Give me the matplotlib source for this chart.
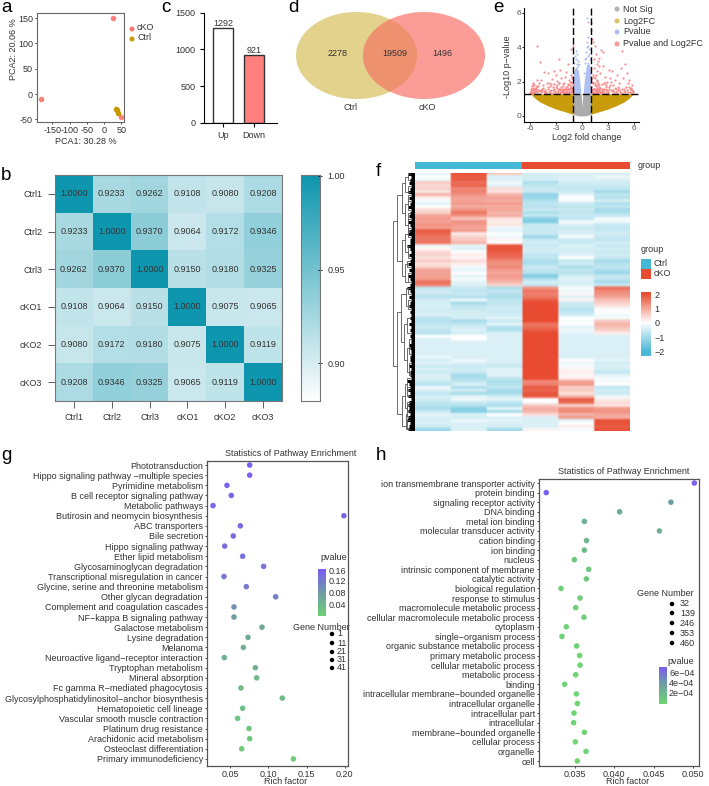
import numpy as np
import matplotlib
matplotlib.use("Agg")
import matplotlib.pyplot as plt
from matplotlib.patches import Ellipse, Rectangle
from matplotlib.colors import LinearSegmentedColormap, Normalize

plt.rcParams['font.family'] = ['Liberation Sans', 'DejaVu Sans']

W, H = 709, 786
TXT = 6.5
DARK = '#333333'

# a: PCA
pca_ko_x = [27, -183, 48]
pca_ko_y = [150, -10, -45]
pca_ctrl_x = [35, 38, 40]
pca_ctrl_y = [-30, -32, -38]

# c: DEG counts
deg_names = ['Up', 'Down']
deg_counts = [1292, 921]

# d: venn counts
venn_counts = [2278, 19509, 1496]

# b: correlation
samples = ['Ctrl1', 'Ctrl2', 'Ctrl3', 'cKO1', 'cKO2', 'cKO3']
corr = [[1.0000, 0.9233, 0.9262, 0.9108, 0.9080, 0.9208],
        [0.9233, 1.0000, 0.9370, 0.9064, 0.9172, 0.9346],
        [0.9262, 0.9370, 1.0000, 0.9150, 0.9180, 0.9325],
        [0.9108, 0.9064, 0.9150, 1.0000, 0.9075, 0.9065],
        [0.9080, 0.9172, 0.9180, 0.9075, 1.0000, 0.9119],
        [0.9208, 0.9346, 0.9325, 0.9065, 0.9119, 1.0000]]

# e: volcano, dense parts are kept as bands, sparse points as lists
gold_left_x = [-6.0, -5.5, -5, -4, -3, -2, -1]
gold_left_low = [1.3, 1.05, 0.85, 0.6, 0.4, 0.25, 0.1]
gold_right_x = [1, 2, 3, 4, 5, 5.5, 6.0]
gold_right_low = [0.1, 0.25, 0.4, 0.6, 0.85, 1.05, 1.3]
grey_x = [-1, -0.5, -0.1, 0.0, 0.1, 0.5, 1]
grey_low = [0.1, 0.02, 0.0, 0.0, 0.0, 0.02, 0.1]
grey_high = [1.3, 1.3, 1.3, 0.5, 1.3, 1.3, 1.3]
blue_left_x = [-1, -0.8, -0.6, -0.4, -0.25, -0.15]
blue_left_top = [2.5, 2.8, 2.9, 2.6, 2.0, 1.4]
blue_right_x = [0.15, 0.3, 0.5, 0.7, 0.9, 1]
blue_right_top = [1.4, 2.2, 2.9, 3.2, 2.9, 2.5]
blue_pts_x = [-0.9, -0.8, -0.75, -0.7, -0.6, -0.55, -0.5, -0.45, -0.4, 0.2, 0.3, 0.4, 0.5, 0.55, 0.6, 0.65, 0.7, 0.75, 0.8, 0.85, 0.9, 0.5, 0.6, 0.7]
blue_pts_y = [3.1, 3.5, 3.8, 3.3, 3.6, 3.0, 3.2, 2.9, 3.0, 2.5, 3.1, 3.3, 3.7, 4.3, 5.7, 4.6, 5.5, 4.1, 3.9, 3.6, 3.3, 3.4, 4.0, 3.5]
red_x = [-5.9, -5.8, -5.7, -5.6, -5.5, -5.4, -5.3, -5.2, -5.1, -5.0, -4.9, -4.8, -4.7, -4.6, -4.5, -4.4, -4.3, -4.2, -4.1, -4.0,
         -3.9, -3.8, -3.7, -3.6, -3.5, -3.4, -3.3, -3.2, -3.1, -3.0, -2.9, -2.8, -2.7, -2.6, -2.5, -2.4, -2.3, -2.2, -2.1, -2.0,
         -1.9, -1.8, -1.7, -1.6, -1.5, -1.4, -1.3, -1.25, -1.2, -1.15, -1.1, -5.2, -4.9, -2.7, -1.6, -1.3, -5.8, -5.6, -5.4, -5.2,
         -4.8, -4.4, -3.8, -3.4, -3.0, -2.6, -2.2, -1.8, -1.4, -1.2, -2.4, -2.0, -1.6, -3.6, -3.2,
         1.05, 1.1, 1.15, 1.2, 1.25, 1.3, 1.35, 1.4, 1.45, 1.5, 1.55, 1.6, 1.65, 1.7, 1.75, 1.8, 1.85, 1.9, 1.95, 2.0,
         2.1, 2.2, 2.3, 2.4, 2.5, 2.6, 2.7, 2.8, 2.9, 3.0, 3.1, 3.2, 3.3, 3.4, 3.5, 3.6, 3.7, 3.8, 3.9, 4.0,
         4.1, 4.2, 4.3, 4.4, 4.5, 4.6, 4.7, 4.8, 4.9, 5.0, 5.1, 5.2, 5.3, 5.4, 5.5, 5.6, 5.7, 5.8, 5.9, 1.3, 1.6, 2.0, 2.4, 1.8, 2.2, 2.8, 3.4, 4.2]
red_y = [1.45, 1.6, 1.85, 1.5, 1.4, 1.7, 1.55, 4.05, 1.5, 1.9, 3.15, 2.1, 1.6, 1.45, 1.8, 2.55, 1.5, 1.35, 1.95, 1.6,
         2.5, 1.4, 1.75, 1.5, 2.15, 1.35, 1.6, 1.85, 1.45, 2.4, 2.05, 1.5, 3.3, 2.7, 1.4, 2.2, 1.6, 1.85, 1.4, 2.3,
         1.55, 2.55, 1.7, 3.05, 2.1, 1.65, 3.9, 1.45, 1.5, 1.9, 4.1, 1.75, 1.5, 1.9, 1.8, 2.4, 1.35, 1.55, 1.45, 2.1,
         1.5, 1.4, 1.9, 1.7, 1.7, 1.5, 1.5, 1.4, 2.0, 2.3, 1.4, 1.6, 1.35, 1.35, 2.6,
         5.4, 5.0, 2.0, 4.5, 2.4, 4.3, 1.6, 3.3, 2.8, 4.1, 2.2, 3.6, 1.5, 2.6, 1.8, 2.1, 1.45, 3.2, 1.7, 3.4,
         2.5, 3.85, 1.6, 2.9, 3.7, 1.9, 2.3, 1.5, 2.0, 1.4, 2.7, 1.7, 2.2, 1.5, 2.6, 1.8, 1.4, 2.1, 1.6, 1.4,
         2.4, 1.5, 1.9, 1.35, 2.8, 3.8, 1.6, 2.2, 1.45, 3.0, 1.7, 2.5, 1.4, 1.9, 2.1, 1.55, 1.65, 1.5, 1.4, 1.9, 2.4, 2.9, 1.5, 3.0, 1.4, 1.8, 2.0, 1.7]
# the thick red crowd just above the threshold line
red_low_x = [-6.0, -5.95, -5.9, -5.85, -5.8, -5.75, -5.7, -5.65, -5.6, -5.55, -5.5, -5.45, -5.35, -5.25, -5.15, -4.95, -4.75, -4.55, -4.35,
             -4.15, -3.95, -3.75, -3.55, -3.35, -3.15, -2.95, -2.85, -2.75, -2.65, -2.55, -2.45, -2.35, -2.25, -2.15, -2.05, -1.95, -1.85,
             -1.75, -1.65, -1.55, -1.45, -1.35, -1.3, -1.25, -1.2, -1.15, -1.1, -1.05, -2.9, -2.7, -2.5, -2.3, -2.1, -1.9, -1.7, -1.5, -1.3,
             -1.1, -2.2, -2.0, -1.8, -1.6, -1.4, -1.2,
             1.05, 1.1, 1.15, 1.2, 1.25, 1.3, 1.35, 1.4, 1.45, 1.5, 1.55, 1.6, 1.65, 1.7, 1.75, 1.8, 1.85, 1.9, 1.95, 2.0, 2.05, 2.15, 2.25,
             2.35, 2.45, 2.55, 2.65, 2.75, 2.85, 2.95, 3.05, 3.15, 3.25, 3.45, 3.65, 3.85, 4.05, 4.25, 4.45, 4.65, 4.85, 5.05, 5.25, 5.45,
             5.55, 5.65, 5.75, 5.85, 5.95, 1.2, 1.4, 1.6, 1.8, 2.0, 2.2, 2.4, 2.6, 2.8, 3.0, 1.3, 1.5, 1.7, 1.9, 2.1]
red_low_y = [1.35, 1.6, 1.4, 1.75, 1.5, 1.95, 1.4, 1.65, 1.35, 1.8, 1.55, 1.4, 1.65, 1.4, 1.75, 1.45, 1.4, 1.65, 1.45,
             1.4, 1.7, 1.45, 1.85, 1.5, 1.4, 1.65, 1.8, 1.4, 1.95, 1.55, 1.7, 1.4, 1.75, 1.5, 1.95, 1.4, 1.7,
             1.5, 1.85, 1.4, 1.8, 1.55, 2.0, 1.35, 2.2, 1.6, 1.8, 1.45, 1.35, 1.55, 1.35, 1.45, 1.6, 1.35, 1.45, 1.55, 1.7,
             1.35, 1.4, 1.35, 1.6, 1.55, 1.4, 1.65,
             1.4, 1.7, 1.5, 2.2, 1.35, 1.9, 1.6, 2.3, 1.4, 1.8, 1.95, 1.35, 1.75, 2.05, 1.45, 1.65, 1.9, 1.4, 1.55, 1.8, 1.4, 1.65, 1.45,
             1.85, 1.4, 1.6, 1.9, 1.35, 1.7, 1.5, 1.4, 1.6, 1.8, 1.45, 1.5, 1.65, 1.4, 1.55, 1.45, 1.35, 1.6, 1.4, 1.5, 1.7,
             1.4, 1.6, 1.35, 1.8, 1.45, 1.45, 1.35, 1.45, 1.35, 1.5, 1.35, 1.45, 1.35, 1.5, 1.35, 1.55, 1.6, 1.4, 1.55, 1.35]
volcano_legend = ['Not Sig', 'Log2FC', 'Pvalue', 'Pvalue and Log2FC']

# f: heatmap columns, 86 rows
hm_c1 = [-.3, 0, -.2, .6, .4, .5, .3, .8, .2, -.1, -.3, 0, .4, .5, 1.0, 1.1, 1.0, 1.2, 1.1, 1.8, 1.7, 1.5, 1.5, 1.5,
         -.2, .1, .4, .5, .3, .6, .3, .5, 1.0, 1.0, 1.0, 1.1, 1.6, 1.4, -.7, -.5, -.6, -.8, -.5, -.5, -.4, -.5, -.5, -.4,
         -.8, -.8, -.7, -.6, -.7, -.8, 0, -.4, -.4, -.4, -.4, -.4, -.4, -.2, -.5, -.3, -.6, -.4, -.6, -.4, -.4,
         -.6, -.8, -.2, -.4, -.7, -.5, -.5, -.7, -.8, -1, -.6, -.3, -.4, -.5, -.4, -.6, -1.1]
hm_c2 = [1.9, 1.8, 1.8, 1.6, 1.7, 1.3, 1.4, 1.2, 1.0, 1.0, 1.1, .9, 1.2, 1.5, 1.2, .6, 1.2, 1.1, 1.0, 1.1, .2, .5, .6, .8,
         -.3, -.4, 0, .2, .1, .4, .2, -.1, -.3, 0, -.3, -.1, -.3, -.4, -.6, -.7, -.6, -.9, -.2, -1, -.7, -.6, -.5, -.5,
         -.5, -1, -.7, -.5, -.4, -.5, 0, 0, -.4, -.4, -.4, -.4, -.4, -.4, -.2, -.4, -.6, -.5, -.6, -1, -.9,
         -.7, -.4, -.9, -.5, -1, -.3, -.2, -.6, -.8, -1.3, -1.3, -.4, -.5, -.2, -.4, -.4, -.4]
hm_c3 = [.6, -.4, -.4, -.2, -.3, .4, .3, .8, 1.0, .9, 1.1, .9, 1.0, .8, .9, .3, .2, .3, -.2, -.3, 0, -.2, .1, 0,
         1.9, 1.9, 1.8, 1.7, 1.6, 1.3, 1.2, 1.3, 1.1, 1.0, 1.1, 1.0, .8, .5, -.9, -.7, -.8, -.9, -.7, -.7, -.6, -.5, -.6, -.5,
         -.3, -.6, -.3, -.8, -.9, -.4, -.4, -.4, -.4, -.4, -.4, -.4, -.4, -.4, -.4, -.5, -.6, -.3, -.4, -.3, -.7,
         -.9, -.8, -.7, -1, -1, -.5, -.3, -.7, -.9, -.3, -1, 0, -.4, -.3, -.4, -.5, -1]
hm_c4 = [-.5, -.5, -.5, -.9, -.7, -.6, -.6, -1.2, -1.1, -.9, -.7, -.8, -.6, -.9, -.7, -1.3, -1.4, -.6, -.6, -.6, -.6, -1.1, -.6, -.5,
         -.6, -.5, -.5, -.7, -.7, -.9, -.9, -.6, -.7, -.8, -1.4, -.9, -.5, -.6, 1.2, 1.5, 1.4, 1.5, 1.8, 2, 2, 2, 2, 2,
         2, 2, 1.5, 1.6, 1.8, 2, 2, 2, 2, 2, 2, 2, 2, 2, 2, 2, 2, 2, 2, 2, 2,
         1.3, 1.4, 1.8, 1.7, 1.9, 1.8, 0, -.1, .6, .9, .8, .4, -.4, -.4, -.4, -.4, .1]
hm_c5 = [-.4, -.4, -.4, -.5, -.6, -.7, -.6, -.3, 0, -.1, -.6, -.7, -.6, -.7, -.6, -.7, -.1, -.4, -.6, -.5, -.4, -.1, -.6, -.6,
         -.4, -.5, -.5, -.4, 0, -.7, -.5, -.9, -.7, -.8, -.5, -.3, -.5, -.4, -.1, -.2, .1, -.4, .1, -.6, -.6, -.8, -.7, -.5,
         0, -.1, 0, -.3, -.2, -.3, -.4, -.4, -.4, -.4, -.4, -.4, -.4, -.4, 0, -.2, -.1, .1, .2, .1, .2,
         1.0, 1.1, .5, .6, .3, .8, 1.8, 1.6, .5, 1.2, 1.3, .8, 1.1, -.3, 0, .2, -.1]
hm_c6 = [-.5, -.2, -.4, -.5, -.6, -.7, -1, -.7, -.8, -.5, -.9, -.7, -1, -.9, -.6, -.1, -.2, -.6, -.7, -.6, -.5, -.6, -.7, -.5,
         -.6, -.5, -.6, -.5, -.6, -1, -.8, -.7, -.9, -1.1, -.6, -.7, -1, -.6, 1.6, 1.3, 1.2, 1.0, .7, .5, .3, -.1, 0, -.2,
         -.1, .6, .8, .7, .5, .2, -.4, -.4, -.4, -.4, -.4, -.4, -.4, -.4, -.3, -.5, -.4, -.5, -.7, -.3, -.1,
         -.1, 0, -.7, -.5, -.6, -.2, .2, .4, .3, 1.1, 1.2, 1.0, .9, 1.9, 1.9, 1.8, 1.9]
# how far each leaf reaches out of the heatmap
leaf_len = [.28, .18, .22, .26, .16, .2, .3, .18, .24, .16, .22, .28, .18, .2, .26, .16, .3, .2, .18, .24, .28, .16, .22, .2,
            .34, .2, .16, .26, .18, .22, .3, .18, .24, .16, .28, .2, .18, .22, .34, .22, .16, .26, .18, .2, .24, .16, .22, .18,
            .2, .16, .24, .18, .22, .16, .2, .18, .16, .24, .2, .18, .16, .22, .2, .18, .24, .16, .2, .22, .18,
            .34, .26, .2, .28, .22, .3, .18, .26, .32, .24, .3, .2, .28, .34, .22, .26, .3]
# brackets: top row, bottom row, height, height of top child, height of bottom child
brackets = [(15.5, 64, 1.0, .80, .80), (7, 29, .80, .60, .60), (46, 80, .80, .62, .58),
            (3, 13, .60, .44, .42), (22, 34, .60, .44, .46), (40, 56, .62, .40, .48), (74, 84, .58, .44, .40),
            (1, 6, .44, .32, .30), (10, 17, .42, .32, .30), (20, 26, .44, .30, .32), (30, 36, .46, .34, .30),
            (38, 44, .40, .30, .28), (50, 62, .48, .36, .34), (70, 78, .44, .34, .36), (80, 85, .40, .36, .34),
            (9, 12, .32, .2, .2), (15, 19, .30, .2, .2), (24, 28, .32, .2, .2), (33, 36, .30, .2, .2),
            (48, 53, .36, .2, .2), (58, 66, .34, .2, .2), (68, 72, .34, .2, .2), (76, 79, .36, .2, .2),
            (0, 2, .32, .2, .2), (4, 6, .30, .2, .2), (7, 9, .28, .2, .2), (13, 15, .28, .2, .2), (18, 21, .3, .2, .2),
            (29, 31, .34, .2, .2), (38, 40, .3, .2, .2), (42, 45, .28, .2, .2), (55, 60, .26, .18, .18), (63, 67, .26, .18, .18),
            (71, 74, .34, .2, .2), (77, 81, .36, .2, .2), (82, 85, .34, .2, .2)]

# g: pathway enrichment
kegg_names = ['Phototransduction', 'Hippo signaling pathway \u2212multiple species', 'Pyrimidine metabolism',
              'B cell receptor signaling pathway', 'Metabolic pathways', 'Butirosin and neomycin biosynthesis',
              'ABC transporters', 'Bile secretion', 'Hippo signaling pathway', 'Ether lipid metabolism',
              'Glycosaminoglycan degradation', 'Transcriptional misregulation in cancer',
              'Glycine, serine and threonine metabolism', 'Other glycan degradation',
              'Complement and coagulation cascades', 'NF\u2212kappa B signaling pathway', 'Galactose metabolism',
              'Lysine degradation', 'Melanoma', 'Neuroactive ligand\u2212receptor interaction', 'Tryptophan metabolism',
              'Mineral absorption', 'Fc gamma R\u2212mediated phagocytosis',
              'Glycosylphosphatidylinositol\u2212anchor biosynthesis', 'Hematopoietic cell lineage',
              'Vascular smooth muscle contraction', 'Platinum drug resistance', 'Arachidonic acid metabolism',
              'Osteoclast differentiation', 'Primary immunodeficiency']
kegg_rich = [.0754, .0754, .0456, .0513, .0273, .199, .0631, .0539, .0426, .0662, .0937, .0417, .071, .1095, .0548,
             .0548, .0916, .0732, .0671, .0421, .0828, .0846, .064, .1182, .0662, .0596, .0745, .0754, .0649, .1327]
kegg_p = [.168, .166, .164, .162, .160, .158, .155, .152, .148, .145, .140, .135, .130, .125, .105,
          .085, .070, .066, .062, .058, .054, .050, .046, .042, .036, .030, .026, .022, .018, .015]
kegg_sizes = [1, 11, 21, 31, 41]

# h: GO enrichment
go_names = ['ion transmembrane transporter activity', 'protein binding', 'signaling receptor activity', 'DNA binding',
            'metal ion binding', 'molecular transducer activity', 'cation binding', 'ion binding', 'nucleus',
            'intrinsic component of membrane', 'catalytic activity', 'biological regulation', 'response to stimulus',
            'macromolecule metabolic process', 'cellular macromolecule metabolic process', 'cytoplasm',
            'single\u2212organism process', 'organic substance metabolic process', 'primary metabolic process',
            'cellular metabolic process', 'metabolic process', 'binding', 'intracellular membrane\u2212bounded organelle',
            'intracellular organelle', 'intracellular part', 'intracellular', 'membrane\u2212bounded organelle',
            'cellular process', 'organelle', 'cell']
go_rich = [.05017, .0314, .0472, .0407, .03623, .04574, .0365, .03623, .03496, .03678, .03648, .03327, .03568, .03513,
           .03618, .03394, .03339, .03525, .03563, .03568, .03513, .03373, .03521, .03534, .03492, .03487, .03623,
           .03508, .03644, .03534]
go_p = [7e-4, 6.9e-4, 3.6e-4, 3.0e-4, 2.6e-4, 2.4e-4, 2.2e-4, 2.0e-4, 1.0e-4, .9e-4, .8e-4, .5e-4, .5e-4, .4e-4, .4e-4,
        .3e-4, .3e-4, .2e-4, .2e-4, .2e-4, .2e-4, .1e-4, .1e-4, .1e-4, .1e-4, .1e-4, .1e-4, .1e-4, .1e-4, .1e-4]
go_sizes = [32, 139, 246, 353, 460]

fig = plt.figure(figsize=(W / 100, H / 100), dpi=100)


def ax_px(x0, y0, x1, y1, **kw):
    # axes placed by pixel box of the reference, y counted from the top
    return fig.add_axes([x0 / W, 1 - y1 / H, (x1 - x0) / W, (y1 - y0) / H], **kw)


def text_px(x, y, s, **kw):
    kw.setdefault('fontsize', TXT)
    kw.setdefault('color', DARK)
    kw.setdefault('va', 'center')
    return fig.text(x / W, 1 - y / H, s, **kw)


def blob(x, y, d, col):
    fig.add_artist(Ellipse((x / W, 1 - y / H), d / W, d / H, color=col, lw=0, transform=fig.transFigure))


for lab, lx, ly in [('a', 1, 8), ('c', 161, 8), ('d', 288, 8), ('e', 493, 8),
                    ('b', 1, 175), ('f', 376, 172), ('g', 1, 456), ('h', 376, 455)]:
    text_px(lx, ly, lab, fontsize=13.5, color='black')

# ---- a
ax = ax_px(37, 13, 124, 122)
ax.scatter(pca_ko_x, pca_ko_y, s=16, color='#F8766D', alpha=.9, lw=0)
ax.scatter(pca_ctrl_x, pca_ctrl_y, s=16, color='#C49A00', lw=0)
ax.set_xlim(-195, 58)
ax.set_ylim(-55, 160)
ax.set_xticks([-150, -100, -50, 0, 50], ['-150', '-100', '-50', '0', '50'])
ax.set_yticks([-50, 0, 50, 100, 150], ['-50', '0', '50', '100', '150'])
ax.tick_params(labelsize=TXT, length=1.5, width=.5, pad=1.5, labelcolor=DARK)
for s in ax.spines.values():
    s.set_color('#666666')
    s.set_linewidth(.8)
text_px(14, 49, 'PCA2: 20.06 %', rotation=90, ha='center')
text_px(86, 141, 'PCA1: 30.28 %', ha='center')
for ly, col, s in [(29, '#F8766D', 'cKO'), (39, '#C49A00', 'Ctrl')]:
    blob(132, ly, 5, col)
    text_px(137, ly - 1, s)

# ---- c
ax = ax_px(204, 12.7, 277, 122.7)
ax.bar([0, 1], deg_counts, width=.66, color=['white', '#FF7F7F'], edgecolor='#333333', linewidth=1)
for i, v in enumerate(deg_counts):
    ax.text(i, v + 5, str(v), ha='center', va='bottom', fontsize=TXT, color=DARK)
ax.set_xlim(-.62, 1.75)
ax.set_ylim(0, 1500)
ax.set_xticks([0, 1], deg_names)
ax.set_yticks([0, 500, 1000, 1500])
ax.tick_params(labelsize=TXT, length=3, width=.8, pad=3, labelcolor=DARK)
ax.spines[['top', 'right']].set_visible(False)

# ---- d
ax = ax_px(290, 5, 490, 115)
ax.set_xlim(290, 490)
ax.set_ylim(115, 5)
ax.axis('off')
left = Ellipse((356.5, 55.5), 121, 87, color='#E3D28C', lw=0)
right = Ellipse((424, 55.5), 122, 87, color='#FB9C97', lw=0)
both = Ellipse((356.5, 55.5), 121, 87, color='#EE916E', lw=0)
ax.add_patch(left)
ax.add_patch(right)
ax.add_patch(both)
both.set_clip_path(right)
text_px(338, 53, str(venn_counts[0]), ha='center')
text_px(395, 53, str(venn_counts[1]), ha='center')
text_px(442, 53, str(venn_counts[2]), ha='center')
text_px(351, 107, 'Ctrl', ha='center')
text_px(427, 107, 'cKO', ha='center')

# ---- e
ax = ax_px(524, 8, 639, 122)
ax.fill_between(gold_left_x, gold_left_low, 1.3, color='#C89B0A', lw=0)
ax.fill_between(gold_right_x, gold_right_low, 1.3, color='#C89B0A', lw=0)
ax.fill_between(grey_x, grey_low, grey_high, color='#ABABAB', lw=0)
ax.fill_between(blue_left_x, 1.3, blue_left_top, color='#AFC0F2', lw=0)
ax.fill_between(blue_right_x, 1.3, blue_right_top, color='#AFC0F2', lw=0)
ax.scatter(blue_pts_x, blue_pts_y, s=2, color='#A5B8F0', lw=0)
ax.scatter(red_x, red_y, s=2.5, color='#F78C8C', lw=0)
ax.scatter(red_low_x, red_low_y, s=2.5, color='#F78C8C', lw=0)
ax.axhline(1.3, color='black', lw=1, dashes=(5, 2))
ax.axvline(-1, color='black', lw=1, dashes=(5, 2))
ax.axvline(1, color='black', lw=1, dashes=(5, 2))
ax.set_xlim(-6.74, 6.63)
ax.set_ylim(-.35, 6.29)
ax.set_xticks([-6, -3, 0, 3, 6], ['-6', '-3', '0', '3', '6'])
ax.set_yticks([0, 2, 4, 6])
ax.tick_params(labelsize=6, length=1.5, width=.6, pad=.5, labelcolor='#555555')
ax.spines[['top', 'right']].set_visible(False)
text_px(508, 67, '-Log10 p\u2212value', rotation=90, ha='center')
text_px(587, 138, 'Log2 fold change', ha='center')
for ly, col, s in zip([9, 21, 32, 44], ['#B3B3B3', '#DCC366', '#AFC0F2', '#F79A9A'], volcano_legend):
    blob(617, ly, 5, col)
    text_px(623, ly, s)

# ---- b
teal = LinearSegmentedColormap.from_list('teal', ['white', '#0E96AE'])
ax = ax_px(55, 175, 282, 401)
ax.imshow(corr, cmap=teal, vmin=.88, vmax=1.0, aspect='auto')
for i in range(6):
    for j in range(6):
        ax.text(j, i, '%.4f' % corr[i][j], ha='center', va='center', fontsize=TXT, color=DARK)
ax.set_xticks(range(6), samples)
ax.set_yticks(range(6), samples)
ax.tick_params(labelsize=TXT, length=5, width=.6, pad=4, labelcolor=DARK, color='#444444')
for s in ax.spines.values():
    s.set_color('#777777')
    s.set_linewidth(.8)
cax = ax_px(301, 175, 320, 401)
grad = np.linspace(1.0, .88, 200)[:, None]
cax.imshow(grad, cmap=teal, vmin=.88, vmax=1.0, aspect='auto', extent=[0, 1, .88, 1.0005])
cax.set_xticks([])
cax.yaxis.tick_right()
cax.set_yticks([.9, .95, 1.0], ['0.90', '0.95', '1.00'])
cax.tick_params(labelsize=TXT, length=2.5, width=.6, pad=4, direction='inout', labelcolor=DARK)
for s in cax.spines.values():
    s.set_color('#777777')
    s.set_linewidth(.8)

# ---- f
heat = LinearSegmentedColormap.from_list('heat', ['#4BB8D6', 'white', '#E84B31'])
mat = np.array([hm_c1, hm_c2, hm_c3, hm_c4, hm_c5, hm_c6]).T
ax = ax_px(414.5, 172.5, 629, 431)
# repeat columns so the smoothing only softens the rows
ax.imshow(np.repeat(mat, 16, axis=1), cmap=heat, vmin=-2, vmax=2, aspect='auto', interpolation='bilinear')
ax.axis('off')
top = ax_px(414.5, 162, 629, 169.5)
top.imshow([[0, 1]], cmap=LinearSegmentedColormap.from_list('g', ['#45B8D5', '#E84B31']), aspect='auto')
top.axis('off')
text_px(638, 165, 'group')
tree = ax_px(390, 172.5, 414.5, 431)
tree.set_xlim(1.14, 0)
tree.set_ylim(len(leaf_len) - .5, -.5)
tree.axis('off')
tree.hlines(range(len(leaf_len)), 0, leaf_len, color='black', lw=2.2)
for r0, r1, h, h0, h1 in brackets:
    tree.plot([h0, h, h, h1], [r0, r0, r1, r1], color='#555555', lw=.6, solid_joinstyle='miter')
text_px(641, 250, 'group')
fig.add_artist(Rectangle((641 / W, 1 - 269 / H), 10 / W, 10 / H, color='#45B8D5', lw=0, transform=fig.transFigure))
fig.add_artist(Rectangle((641 / W, 1 - 279 / H), 10 / W, 10 / H, color='#E84B31', lw=0, transform=fig.transFigure))
text_px(654, 263, 'Ctrl')
text_px(654, 274, 'cKO')
cax = ax_px(641, 292, 651, 356)
cax.imshow(np.linspace(2.14, -2.3, 100)[:, None], cmap=heat, vmin=-2, vmax=2, aspect='auto', extent=[0, 1, -2.3, 2.14])
cax.set_xticks([])
cax.yaxis.tick_right()
cax.set_yticks([-2, -1, 0, 1, 2], ['\u22122', '\u22121', '0', '1', '2'])
cax.tick_params(labelsize=TXT, length=0, pad=2.5, labelcolor=DARK)
for s in cax.spines.values():
    s.set_visible(False)

# ---- g, h
enrich = LinearSegmentedColormap.from_list('enrich', ['#6FD673', '#6FA0A0', '#7B5CF2'])


def dots(box, names, rich, pvals, xlim, xticks, pmax, pad_top, pad_bottom):
    ax = ax_px(*box)
    y = np.arange(len(names))
    ax.scatter(rich, y, c=pvals, cmap=enrich, norm=Normalize(0, pmax), s=16, lw=0, clip_on=False)
    ax.set_xlim(*xlim)
    ax.set_ylim(len(names) - 1 + pad_bottom, -pad_top)
    ax.set_yticks(y, names)
    ax.set_xticks(xticks)
    ax.xaxis.set_major_formatter(lambda v, p: ('%.3f' if pmax < .01 else '%.2f') % v)
    ax.tick_params(labelsize=TXT, length=1.5, width=.5, pad=1.5, labelcolor=DARK)
    for s in ax.spines.values():
        s.set_color('#555555')
        s.set_linewidth(.9)
    return ax


dots((207, 461, 348, 766), kegg_names, kegg_rich, kegg_p, (.0194, .2044), [.05, .10, .15, .20], .172, .4, .7)
text_px(290.5, 453, 'Statistics of Pathway Enrichment', ha='center')
text_px(286, 782, 'Rich factor', ha='center')
text_px(334, 557, 'pvalue', ha='center')
cax = ax_px(318, 569, 326, 616)
cax.imshow(np.linspace(.172, .012, 60)[:, None], cmap=enrich, vmin=0, vmax=.172, aspect='auto')
cax.axis('off')
for ly, s in zip([571, 582, 594, 606], ['0.16', '0.12', '0.08', '0.04']):
    text_px(329, ly, s)
text_px(321, 627, 'Gene Number', ha='center')
for ly, v in zip([634, 643, 652, 660, 668], kegg_sizes):
    blob(332, ly, 4.5, 'black')
    text_px(337, ly, str(v))

dots((539, 479, 699, 766), go_names, go_rich, go_p, (.03048, .05076), [.035, .040, .045, .050], 7.2e-4, .42, .52)
text_px(624, 471, 'Statistics of Pathway Enrichment', ha='center')
text_px(628, 782, 'Rich factor', ha='center')
text_px(665, 594, 'Gene Number', ha='center')
for ly, v in zip([604, 613, 623, 633, 643], go_sizes):
    blob(672, ly, 4.5, 'black')
    text_px(680, ly, str(v))
text_px(667, 662, 'pvalue')
cax = ax_px(659, 667, 667, 704)
cax.imshow(np.linspace(7.2e-4, 0, 60)[:, None], cmap=enrich, vmin=0, vmax=7.2e-4, aspect='auto')
cax.axis('off')
for ly, s in zip([673, 683, 694], ['6e\u221204', '4e\u221204', '2e\u221204']):
    text_px(669, ly, s)

fig.savefig('out.png', dpi=100)
